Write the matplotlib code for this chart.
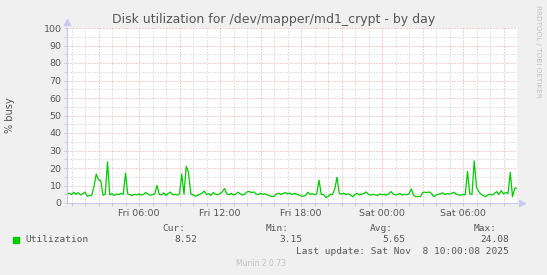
import numpy as np
import matplotlib.pyplot as plt

# Hours since Fri 00:00, 10-minute samples from 00:40 Fri to 10:00 Sat
t_start = 0 + 40 / 60
step = 10 / 60

busy = [
    5.2, 5.6, 4.8, 6.1, 5.0, 5.9, 4.6, 5.3, 6.2, 3.8,
    4.2, 4.5, 9.5, 16.5, 13.2, 12.8, 4.4, 5.0, 23.5, 4.6,
    5.4, 4.3, 5.1, 4.8, 5.5, 5.0, 17.0, 5.2, 4.7, 4.3,
    5.0, 4.6, 5.3, 4.5, 4.9, 6.0, 5.1, 4.4, 4.8, 5.2,
    10.0, 5.0, 4.6, 5.8, 4.3, 5.5, 6.2, 4.6, 5.0, 4.5,
    5.2, 16.5, 5.0, 21.0, 17.5, 5.2, 4.6, 3.9, 4.4, 5.0,
    5.6, 6.8, 4.9, 5.3, 4.4, 6.0, 5.0, 4.7, 5.4, 6.3,
    8.3, 5.2, 4.8, 5.5, 4.5, 5.1, 6.2, 5.3, 4.6, 5.0,
    6.3, 6.6, 5.9, 6.4, 5.2, 4.8, 5.6, 4.9, 5.3, 4.6,
    4.2, 3.6, 3.8, 5.1, 5.6, 4.9, 5.4, 6.0, 5.2, 5.7,
    4.8, 5.5, 5.0, 4.6, 4.0, 3.9, 4.2, 6.1, 5.0, 5.3,
    4.7, 5.2, 13.1, 5.0, 4.8, 3.2, 3.6, 5.0, 4.9, 8.0,
    14.7, 5.5, 5.2, 5.6, 4.8, 5.3, 4.6, 3.5, 5.0, 5.4,
    4.6, 5.1, 5.5, 6.3, 4.9, 4.4, 5.0, 4.6, 4.3, 5.2,
    4.7, 5.0, 4.4, 5.3, 6.5, 5.1, 4.6, 4.9, 5.4, 4.5,
    5.0, 4.7, 5.2, 8.0, 4.6, 3.6, 3.8, 3.6, 5.8, 6.2,
    6.0, 6.3, 5.5, 3.6, 4.5, 5.0, 5.3, 5.8, 4.9, 5.4,
    5.1, 5.6, 6.2, 5.0, 4.6, 4.5, 4.9, 4.7, 18.0, 5.2,
    5.0, 24.1, 9.0, 6.5, 5.0, 4.2, 3.6, 4.5, 5.0, 4.4,
    5.5, 6.5, 4.9, 7.0, 5.2, 6.0, 5.4, 17.5, 3.6, 8.5,
    8.5,
]
hours = t_start + step * np.arange(len(busy))

x_ticks = [6, 12, 18, 24, 30]
x_labels = ["Fri 06:00", "Fri 12:00", "Fri 18:00", "Sat 00:00", "Sat 06:00"]

legend_name = "Utilization"
stats_head = ["Cur:", "Min:", "Avg:", "Max:"]
stats_vals = ["8.52", "3.15", "5.65", "24.08"]
last_update = "Last update: Sat Nov  8 10:00:08 2025"

bg = "#f0f0f0"
txt = "#555555"
green = "#00cc00"

fig = plt.figure(figsize=(5.47, 2.75), dpi=100, facecolor=bg)
ax = fig.add_axes([67 / 547, 72 / 275, 450 / 547, 175 / 275])
ax.set_facecolor("white")

ax.set_xlim(t_start, 34)
ax.set_ylim(0, 100)

# grid: red major, grey minor
ax.set_xticks(np.arange(3, 34, 3))
ax.set_xticklabels([x_labels[x_ticks.index(h)] if h in x_ticks else "" for h in range(3, 34, 3)])
ax.set_xticks(np.arange(1, 34, 1), minor=True)
ax.set_yticks(np.arange(0, 101, 10))
ax.set_yticks(np.arange(0, 101, 5), minor=True)
ax.grid(which="minor", color="#c8c8c8", linestyle=(0, (1, 2)), linewidth=0.72)
ax.grid(which="major", color="#e8a0a0", linestyle=(0, (1, 2)), linewidth=0.72)
ax.set_axisbelow(True)

ax.tick_params(which="both", colors="#c8c8c8", labelcolor=txt, labelsize=6.8,
               length=2, width=0.6, pad=2)

for s in ["top", "right"]:
    ax.spines[s].set_visible(False)
for s in ["left", "bottom"]:
    ax.spines[s].set_color("#c8c8f0")
    ax.spines[s].set_linewidth(0.8)

# axis arrows
ax.plot([0], [1.035], marker="^", color="#c8c8f0", markersize=4,
        transform=ax.transAxes, clip_on=False)
ax.plot([1.01], [0], marker=">", color="#c8c8f0", markersize=4,
        transform=ax.transAxes, clip_on=False)

ax.plot(hours, busy, color=green, linewidth=0.9)

ax.set_ylabel("% busy", fontsize=7, color=txt)
ax.yaxis.set_label_coords(-0.115, 0.5)

fig.text(0.5, 1 - 19 / 275, "Disk utilization for /dev/mapper/md1_crypt - by day",
         ha="center", va="center", fontsize=9, color=txt)
fig.text(538 / 547, 1 - 5 / 275, "RRDTOOL / TOBI OETIKER", rotation=-90,
         ha="center", va="top", fontsize=5.2, color="#c0c0c0")

# legend block
mono = dict(family="DejaVu Sans Mono", fontsize=6.8, color=txt)
fig.patches.append(plt.Rectangle((13 / 547, 1 - 243 / 275), 6 / 547, 6 / 275,
                                 transform=fig.transFigure, color=green))
fig.text(25 / 547, 1 - 239.5 / 275, legend_name, ha="left", va="center", **mono)
head_x = [185, 289, 393, 497]
val_x = [197, 302, 405, 509]
for hx, h in zip(head_x, stats_head):
    fig.text(hx / 547, 1 - 228.5 / 275, h, ha="right", va="center", **mono)
for vx, v in zip(val_x, stats_vals):
    fig.text(vx / 547, 1 - 239.5 / 275, v, ha="right", va="center", **mono)
fig.text(509 / 547, 1 - 251 / 275, last_update, ha="right", va="center", **mono)
fig.text(260.5 / 547, 1 - 264 / 275, "Munin 2.0.73", ha="center", va="center",
         fontsize=5.5, color="#c0c0c0")

fig.savefig("out.png", dpi=100, facecolor=bg)
